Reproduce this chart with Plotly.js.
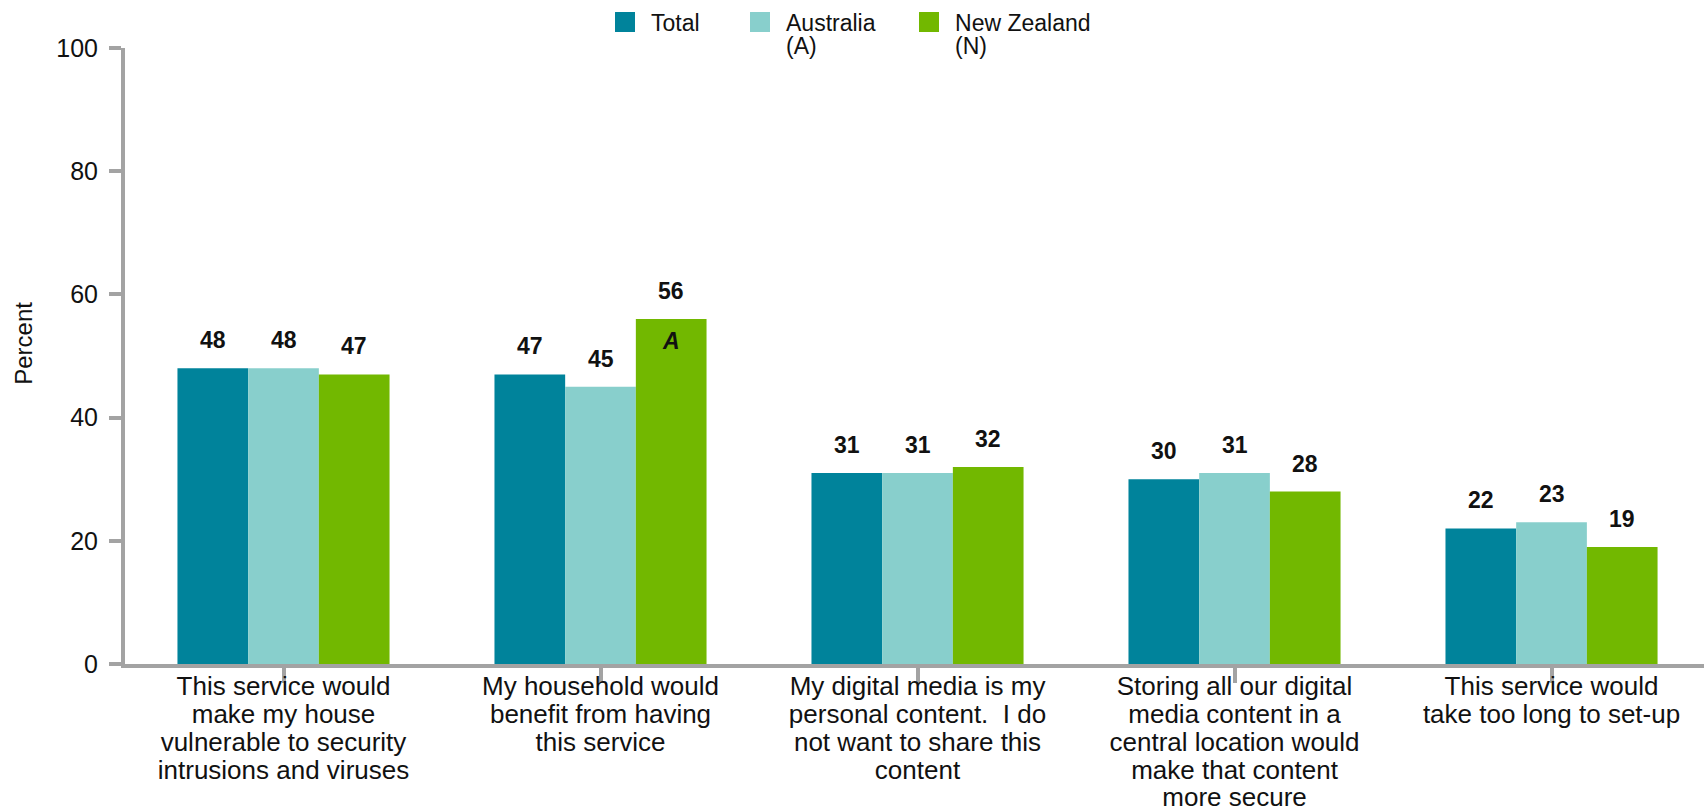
<!DOCTYPE html>
<html>
<head>
<meta charset="utf-8">
<script src="https://cdn.plot.ly/plotly-3.0.1.min.js"></script>
<style>html,body{margin:0;padding:0;background:#fff;}#chart{width:1704px;height:812px;}</style>
</head>
<body>
<div id="chart"></div>
<script>
const categories = [
  "This service would<br>make my house<br>vulnerable to security<br>intrusions and viruses",
  "My household would<br>benefit from having<br>this service",
  "My digital media is my<br>personal content.  I do<br>not want to share this<br>content",
  "Storing all our digital<br>media content in a<br>central location would<br>make that content<br>more secure",
  "This service would<br>take too long to set-up"
];
const seriesNames = ["Total", "Australia<br>(A)", "New Zealand<br>(N)"];
const totalValues = [48, 47, 31, 30, 22];
const australiaValues = [48, 45, 31, 31, 23];
const newZealandValues = [47, 56, 32, 28, 19];
const newZealandSig = ["", "A", "", "", ""];
const yTicks = [0, 20, 40, 60, 80, 100];
const yTitle = "Percent";

const colors = ["#00839B", "#88CFCC", "#72B800"];
const font = "Liberation Sans, Arial, sans-serif";
const bargap = 0.331;
const axisGray = "#a3a3a3";

const xIdx = categories.map((_, i) => i);
const allSeries = [totalValues, australiaValues, newZealandValues];

const traces = allSeries.map((vals, s) => ({
  type: "bar",
  name: seriesNames[s],
  x: xIdx,
  y: vals,
  marker: {color: colors[s]},
  hoverinfo: "skip"
}));

const barW = (1 - bargap) / 3;
const annotations = [];
allSeries.forEach((vals, s) => {
  vals.forEach((v, i) => {
    annotations.push({
      x: i + (s - 1) * barW, y: v, xref: "x", yref: "y",
      text: "<b>" + v + "</b>", showarrow: false,
      yanchor: "bottom", yshift: 13,
      font: {family: font, size: 23, color: "#111"}
    });
  });
});
newZealandSig.forEach((sig, i) => {
  if (sig) {
    annotations.push({
      x: i + barW, y: newZealandValues[i], xref: "x", yref: "y",
      text: "<b><i>" + sig + "</i></b>", showarrow: false,
      yanchor: "top", yshift: -7,
      font: {family: font, size: 23, color: "#111"}
    });
  }
});
annotations.push({
  x: -0.064, y: 0.5214, xref: "paper", yref: "paper",
  text: yTitle, textangle: -90, showarrow: false,
  xanchor: "center", yanchor: "middle",
  font: {family: font, size: 24, color: "#111"}
});

const layout = {
  width: 1704, height: 812,
  margin: {l: 125, r: 0, t: 46, b: 147.5},
  paper_bgcolor: "#fff", plot_bgcolor: "#fff",
  barmode: "group", bargap: bargap, bargroupgap: 0,
  font: {family: font, color: "#111"},
  showlegend: true,
  legend: {
    orientation: "h", x: 0.3078, y: 1.077, xanchor: "left", yanchor: "top",
    font: {family: font, size: 23, color: "#111"},
    valign: "top", bgcolor: "rgba(0,0,0,0)",
    itemclick: false, itemdoubleclick: false
  },
  xaxis: {
    range: [-0.5, 4.481],
    tickmode: "array", tickvals: xIdx, ticktext: categories,
    tickson: "boundaries", ticks: "outside", ticklen: 15, tickwidth: 4, tickcolor: axisGray,
    showline: true, linecolor: axisGray, linewidth: 4,
    showgrid: false, zeroline: false, fixedrange: true,
    ticklabelstandoff: -19,
    tickfont: {family: font, size: 26, color: "#111"}
  },
  yaxis: {
    range: [0, 100], tickvals: yTicks,
    ticks: "outside", ticklen: 12, tickwidth: 4, tickcolor: axisGray,
    showline: true, linecolor: axisGray, linewidth: 4,
    showgrid: false, zeroline: false, fixedrange: true,
    ticklabelstandoff: 6,
    tickfont: {family: font, size: 25, color: "#111"}
  },
  annotations: annotations
};

function scaleLines(textEl, k) {
  textEl.querySelectorAll("tspan.line").forEach(s => {
    const dy = s.getAttribute("dy");
    if (dy) s.setAttribute("dy", (parseFloat(dy) * k) + "em");
  });
}

const gd = document.getElementById("chart");
Plotly.newPlot(gd, traces, layout, {displayModeBar: false, staticPlot: true}).then(() => {
  gd.querySelectorAll(".xtick text").forEach(t => scaleLines(t, 27.8 / (1.3 * 26)));
  gd.querySelectorAll(".legend .traces text").forEach(t => scaleLines(t, 0.76));
  gd.querySelectorAll(".legend .legendpoints path").forEach(p => p.setAttribute("d", "M4,10H-16V-10H4Z"));
  gd.querySelectorAll(".legend [clip-path]").forEach(e => e.removeAttribute("clip-path"));
  const offs = [0, 135, 304];
  gd.querySelectorAll(".legend .traces").forEach((g, i) => {
    const tr = g.getAttribute("transform") || "";
    const m = tr.match(/translate\(([-\d.]+)[ ,]*([-\d.]+)?\)/);
    const y = m && m[2] ? parseFloat(m[2]) : 0;
    g.setAttribute("transform", "translate(" + offs[i] + "," + y + ")");
  });
});
</script>
</body>
</html>
